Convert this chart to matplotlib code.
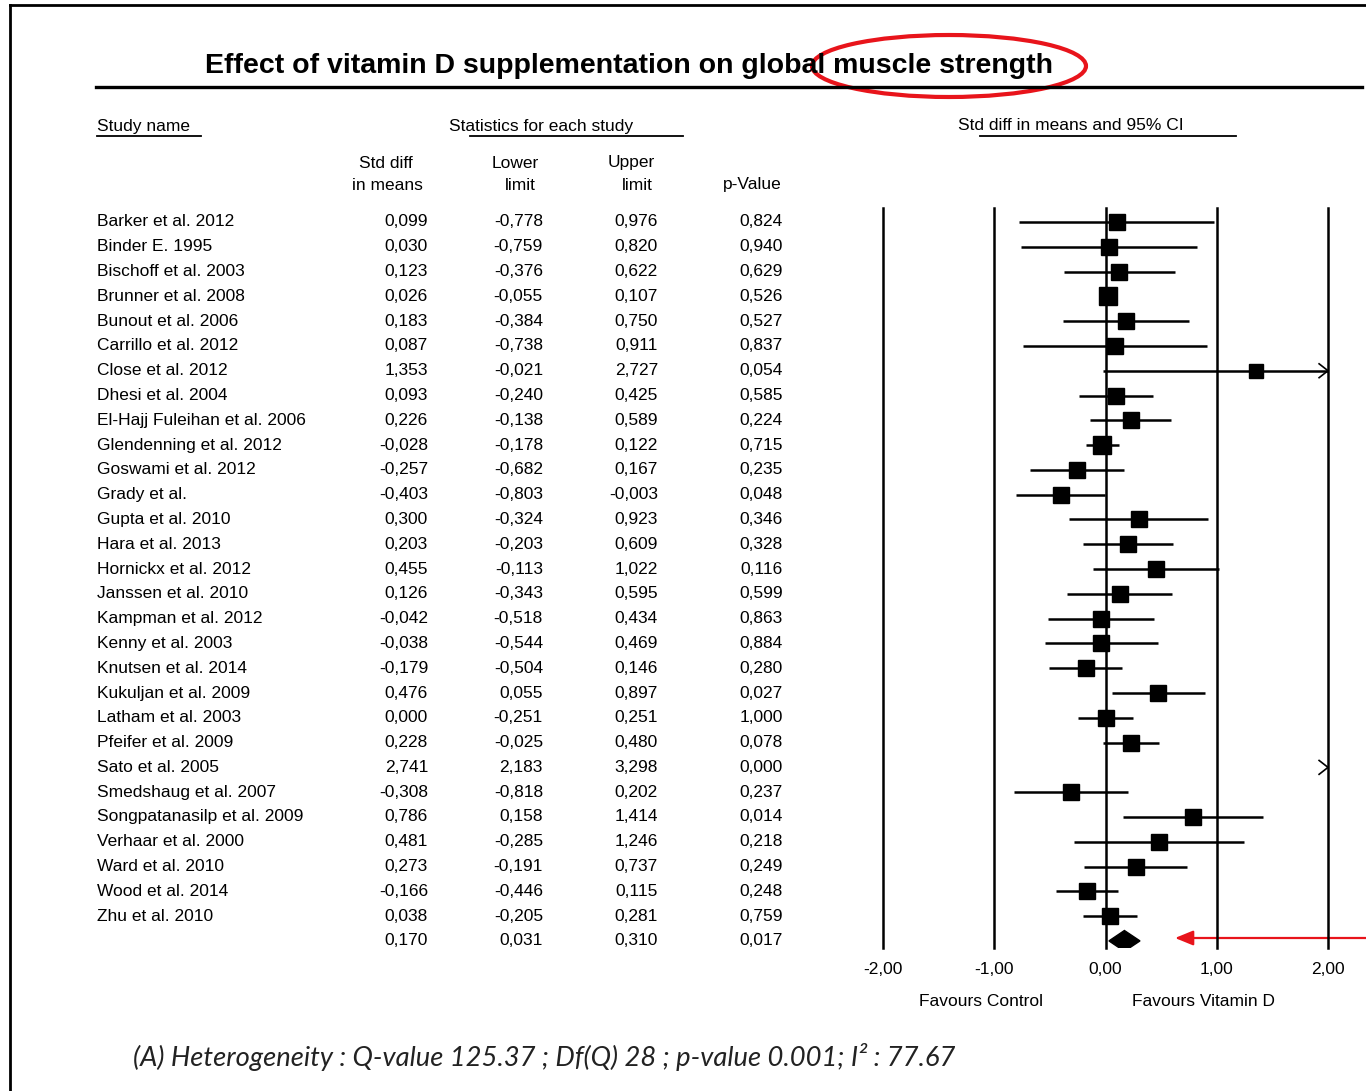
import matplotlib
matplotlib.use("Agg")
import matplotlib.pyplot as plt
import numpy as np
from matplotlib import font_manager as fm
from matplotlib.transforms import blended_transform_factory
from matplotlib.patches import Ellipse, Polygon

# ---------------- data ----------------
studies = ["Barker et al. 2012", "Binder E. 1995", "Bischoff et al. 2003", "Brunner et al. 2008",
           "Bunout et al. 2006", "Carrillo et al. 2012", "Close et al. 2012", "Dhesi et al. 2004",
           "El-Hajj Fuleihan et al. 2006", "Glendenning et al. 2012", "Goswami et al. 2012",
           "Grady et al.", "Gupta et al. 2010", "Hara et al. 2013", "Hornickx et al. 2012",
           "Janssen et al. 2010", "Kampman et al. 2012", "Kenny et al. 2003", "Knutsen et al. 2014",
           "Kukuljan et al. 2009", "Latham et al. 2003", "Pfeifer et al. 2009", "Sato et al. 2005",
           "Smedshaug et al. 2007", "Songpatanasilp et al. 2009", "Verhaar et al. 2000",
           "Ward et al. 2010", "Wood et al. 2014", "Zhu et al. 2010"]
std_diff = [0.099, 0.030, 0.123, 0.026, 0.183, 0.087, 1.353, 0.093, 0.226, -0.028, -0.257, -0.403,
            0.300, 0.203, 0.455, 0.126, -0.042, -0.038, -0.179, 0.476, 0.000, 0.228, 2.741, -0.308,
            0.786, 0.481, 0.273, -0.166, 0.038]
lower = [-0.778, -0.759, -0.376, -0.055, -0.384, -0.738, -0.021, -0.240, -0.138, -0.178, -0.682,
         -0.803, -0.324, -0.203, -0.113, -0.343, -0.518, -0.544, -0.504, 0.055, -0.251, -0.025,
         2.183, -0.818, 0.158, -0.285, -0.191, -0.446, -0.205]
upper = [0.976, 0.820, 0.622, 0.107, 0.750, 0.911, 2.727, 0.425, 0.589, 0.122, 0.167, -0.003,
         0.923, 0.609, 1.022, 0.595, 0.434, 0.469, 0.146, 0.897, 0.251, 0.480, 3.298, 0.202,
         1.414, 1.246, 0.737, 0.115, 0.281]
p_value = [0.824, 0.940, 0.629, 0.526, 0.527, 0.837, 0.054, 0.585, 0.224, 0.715, 0.235, 0.048,
           0.346, 0.328, 0.116, 0.599, 0.863, 0.884, 0.280, 0.027, 1.000, 0.078, 0.000, 0.237,
           0.014, 0.218, 0.249, 0.248, 0.759]
weights = [3.3, 3.3, 3.4, 4.6, 3.4, 3.3, 2.6, 3.6, 3.5, 4.5, 3.4, 3.4, 3.4, 3.5, 3.4, 3.4, 3.4,
           3.4, 3.7, 3.4, 3.8, 3.7, 3.1, 3.4, 3.2, 3.2, 3.4, 3.7, 3.8]
summary = (0.170, 0.031, 0.310, 0.017)
x_ticks = [-2.0, -1.0, 0.0, 1.0, 2.0]
title = "Effect of vitamin D supplementation on global muscle strength"
footer = "(A) Heterogeneity : Q-value 125.37 ; Df(Q) 28 ; p-value 0.001; I\u00b2 : 77.67"

# ---------------- fonts ----------------
def has_font(name):
    try:
        fm.findfont(fm.FontProperties(family=name), fallback_to_default=False)
        return True
    except Exception:
        return False

NARROW = "Liberation Sans Narrow" if has_font("Liberation Sans Narrow") else "Liberation Sans"
ITAL = "Lato" if has_font("Lato") else "DejaVu Sans"

def fmt(v):
    return f"{v:.3f}".replace(".", ",")

# ---------------- layout ----------------
W, H = 1366, 1091
fig = plt.figure(figsize=(W / 100, H / 100), dpi=100)
ax0 = fig.add_axes([0, 0, 1, 1])
ax0.set_xlim(0, W)
ax0.set_ylim(H, 0)
ax0.axis("off")

ROW0, ROW_H = 222.0, 24.79
XL, XR = 883.0, 1328.0
YT, YB = 208.0, 948.0
fax = fig.add_axes([XL / W, 1 - YB / H, (XR - XL) / W, (YB - YT) / H])
fax.set_xlim(x_ticks[0], x_ticks[-1])
fax.set_ylim((YB - ROW0) / ROW_H, (YT - ROW0) / ROW_H)
fax.axis("off")
fax.patch.set_alpha(0)

n = len(studies)
rows = np.arange(n)
sum_row = n

# frame
ax0.plot([10, W], [5, 5], color="black", lw=2.0)
ax0.plot([10, 10], [5, H], color="black", lw=2.0)

# title + underline
t_title = ax0.text(205, 66, title, fontsize=27, fontweight="bold", family=NARROW,
                   ha="left", va="center")
ax0.plot([96, 1362], [87, 87], color="black", lw=2.4)
ax0.add_patch(Ellipse((949, 66), 274, 62, fill=False, edgecolor="#e8141b", lw=3.0))

# headers
hs = 12.5
ax0.text(97, 126, "Study name", fontsize=hs, family=NARROW, ha="left", va="center")
ax0.plot([97, 201], [136, 136], color="black", lw=1.3)
ax0.text(449, 126, "Statistics for each study", fontsize=hs, family=NARROW, ha="left", va="center")
ax0.plot([470, 683], [136, 136], color="black", lw=1.3)
ax0.text(958, 126, "Std diff in means and 95% CI", fontsize=hs, family=NARROW, ha="left", va="center")
ax0.plot([980, 1236], [136, 136], color="black", lw=1.3)

ax0.text(386, 163, "Std diff", fontsize=hs, family=NARROW, ha="center", va="center")
ax0.text(387, 185, "in means", fontsize=hs, family=NARROW, ha="center", va="center")
ax0.text(515, 163, "Lower", fontsize=hs, family=NARROW, ha="center", va="center")
ax0.text(520, 185, "limit", fontsize=hs, family=NARROW, ha="center", va="center")
ax0.text(631, 163, "Upper", fontsize=hs, family=NARROW, ha="center", va="center")
ax0.text(637, 185, "limit", fontsize=hs, family=NARROW, ha="center", va="center")
ax0.text(752, 185, "p-Value", fontsize=hs, family=NARROW, ha="center", va="center")

# table
tr = blended_transform_factory(ax0.transData, fax.transData)
ts = 12.5
cols_x = [428, 543, 658, 783]
for i in range(n):
    ax0.text(97, rows[i], studies[i], transform=tr, fontsize=ts, family=NARROW, ha="left", va="center")
    for cx, val in zip(cols_x, (std_diff[i], lower[i], upper[i], p_value[i])):
        ax0.text(cx, rows[i], fmt(val), transform=tr, fontsize=ts, family=NARROW, ha="right", va="center")
for cx, val in zip(cols_x, summary):
    ax0.text(cx, sum_row, fmt(val), transform=tr, fontsize=ts, family=NARROW, ha="right", va="center")

# forest plot grid lines
for xt in x_ticks:
    fax.plot([xt, xt], [fax.get_ylim()[0], fax.get_ylim()[1]], color="black", lw=1.8,
             clip_on=False, zorder=1)

xmax = x_ticks[-1]
chev_dx = 0.08
chev_dy = 0.28
w_arr = np.array(weights)
side_px = 17.0 * np.sqrt(w_arr / w_arr.max()) + 1.5
for i in range(n):
    lo, hi, est = lower[i], upper[i], std_diff[i]
    if lo < xmax:
        fax.plot([lo, min(hi, xmax)], [rows[i], rows[i]], color="black", lw=1.8, zorder=2,
                 solid_capstyle="butt")
    if hi > xmax:
        fax.plot([xmax - chev_dx, xmax, xmax - chev_dx],
                 [rows[i] - chev_dy, rows[i], rows[i] + chev_dy], color="black", lw=1.2,
                 zorder=3, clip_on=False)
    if est <= xmax:
        fax.plot([est], [rows[i]], marker="s", color="black", markersize=side_px[i] * 0.72,
                 zorder=4, linestyle="none")

# summary diamond
est, lo, hi, _ = summary
dh = 0.42
fax.add_patch(Polygon([[lo, sum_row], [est, sum_row - dh], [hi, sum_row], [est, sum_row + dh]],
                      closed=True, facecolor="black", edgecolor="black", lw=1, zorder=4))

# red arrow pointing at the summary diamond
ax0.annotate("", xy=(1175, 938), xytext=(W + 2, 938),
             arrowprops=dict(arrowstyle="-|>,head_length=1.1,head_width=0.45", color="#e8141b",
                             lw=1.6, shrinkA=0, shrinkB=0))

# tick labels
for xt in x_ticks:
    ax0.text(XL + (xt - x_ticks[0]) / (x_ticks[-1] - x_ticks[0]) * (XR - XL), 970,
             f"{xt:.2f}".replace(".", ","), fontsize=ts, family=NARROW, ha="center", va="center")
ax0.text(981, 1001, "Favours Control", fontsize=ts, family=NARROW, ha="center", va="center")
ax0.text(1204, 1001, "Favours Vitamin D", fontsize=ts, family=NARROW, ha="center", va="center")

# footer
t_foot = ax0.text(133, 1057, footer, fontsize=17, family=ITAL, style="italic",
                  ha="left", va="center", color="#222222")

# fit widths of title / footer to the reference
fig.canvas.draw()
r = fig.canvas.get_renderer()
for t, target in ((t_title, 1053 - 205), (t_foot, 955 - 133)):
    w = t.get_window_extent(r).width
    t.set_fontsize(t.get_fontsize() * target / w)

fig.savefig("out.png", dpi=100)
